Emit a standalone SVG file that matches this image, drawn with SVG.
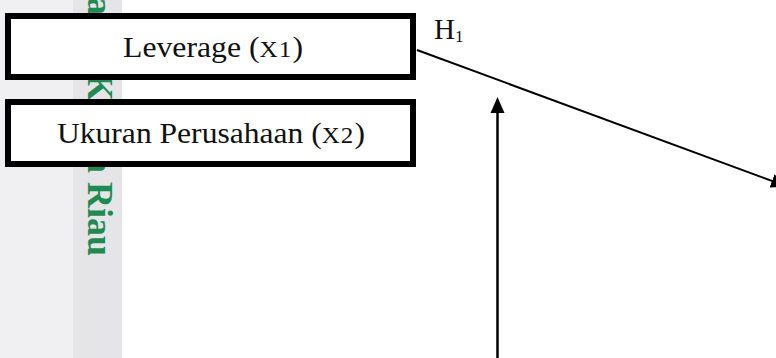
<svg xmlns="http://www.w3.org/2000/svg" width="776" height="358" viewBox="0 0 776 358">
  <style>
    .box { fill: #ffffff; stroke: #000000; stroke-width: 6; }
    .lbl { font-family: "Liberation Serif", "Times New Roman", serif; font-size: 29px; fill: #111111; }
    .sub { font-size: 23px; letter-spacing: 1px; }
    .conn { stroke: #000000; fill: none; }
    .wm { font-family: "Liberation Serif", "Times New Roman", serif; font-weight: bold; font-size: 36px; fill: #1f8a52; }
  </style>
  <defs>
    <marker id="arrow" viewBox="0 0 16 16" refX="10" refY="8" markerWidth="16" markerHeight="16" markerUnits="userSpaceOnUse" orient="auto">
      <path d="M0,1 L16,8 L0,15 z" fill="#000000"/>
    </marker>
  </defs>

  <g id="background">
    <rect x="0" y="0" width="776" height="358" fill="#ffffff"/>
    <rect x="0" y="0" width="73" height="358" fill="#f0f0f2"/>
    <rect x="73" y="0" width="49" height="358" fill="#e5e5e7"/>
    <g transform="translate(88,0) rotate(90)">
      <text class="wm"><tspan x="-41">Syarif</tspan><tspan x="73">Kasim Riau</tspan></text>
    </g>
  </g>

  <g id="connectors">
    <line class="conn" x1="417" y1="50" x2="781.4" y2="184.4" stroke-width="2" marker-end="url(#arrow)"/>
    <line class="conn" x1="497.5" y1="362" x2="497.5" y2="103" stroke-width="2.5" marker-end="url(#arrow)"/>
  </g>

  <g id="node-x1">
    <rect class="box" x="8" y="16" width="405" height="61"/>
    <text class="lbl" x="123" y="57" textLength="180" lengthAdjust="spacingAndGlyphs">Leverage (<tspan class="sub">X1</tspan>)</text>
  </g>

  <g id="node-x2">
    <rect class="box" x="8" y="102" width="405" height="62"/>
    <text class="lbl" x="57" y="143" textLength="308" lengthAdjust="spacingAndGlyphs">Ukuran Perusahaan (<tspan class="sub">X2</tspan>)</text>
  </g>

  <g id="label-h1">
    <text class="lbl" x="434" y="39" font-size="24">H<tspan font-size="17" dy="3">1</tspan></text>
  </g>
</svg>
